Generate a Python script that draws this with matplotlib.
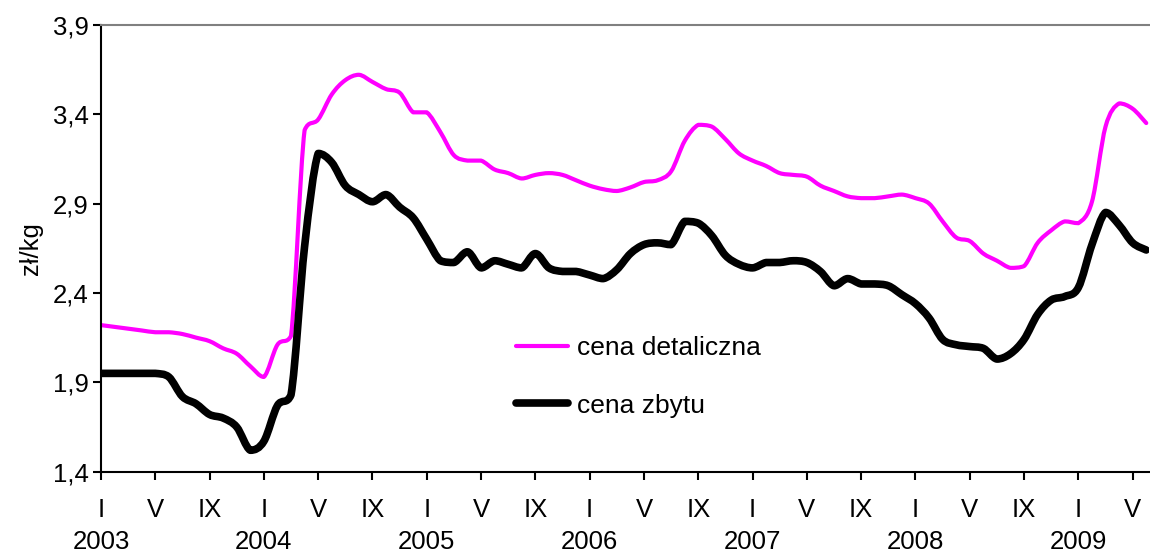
import numpy as np
import matplotlib.pyplot as plt
from matplotlib.path import Path
from matplotlib.patches import PathPatch
from matplotlib.lines import Line2D

plt.rcParams['font.family'] = ['Liberation Sans', 'DejaVu Sans']

# monthly prices, I 2003 .. VI 2009
detal = [2.22, 2.21, 2.20, 2.19, 2.18, 2.18, 2.17, 2.15, 2.13, 2.09, 2.06, 1.99,
         1.93, 2.11, 2.16, 3.31, 3.37, 3.51, 3.59, 3.62, 3.58, 3.54, 3.52, 3.41,
         3.41, 3.30, 3.17, 3.14, 3.14, 3.09, 3.07, 3.04, 3.06, 3.07, 3.06, 3.03,
         3.00, 2.98, 2.97, 2.99, 3.02, 3.03, 3.08, 3.25, 3.34, 3.33, 3.26, 3.18,
         3.14, 3.11, 3.07, 3.06, 3.05, 3.00, 2.97, 2.94, 2.93, 2.93, 2.94, 2.95,
         2.93, 2.90, 2.80, 2.71, 2.69, 2.62, 2.58, 2.54, 2.55, 2.68, 2.75, 2.80,
         2.79, 2.91, 3.33, 3.46, 3.43, 3.35]
zbyt = [1.95, 1.95, 1.95, 1.95, 1.95, 1.93, 1.82, 1.78, 1.72, 1.70, 1.65, 1.52,
        1.57, 1.77, 1.83, 2.66, 3.18, 3.13, 3.00, 2.95, 2.91, 2.95, 2.88, 2.82,
        2.70, 2.58, 2.57, 2.63, 2.54, 2.58, 2.56, 2.54, 2.62, 2.54, 2.52, 2.52,
        2.50, 2.48, 2.53, 2.62, 2.67, 2.68, 2.67, 2.80, 2.79, 2.72, 2.61, 2.56,
        2.54, 2.57, 2.57, 2.58, 2.57, 2.52, 2.44, 2.48, 2.45, 2.45, 2.44, 2.39,
        2.34, 2.26, 2.14, 2.11, 2.10, 2.09, 2.03, 2.06, 2.14, 2.28, 2.36, 2.38,
        2.43, 2.67, 2.85, 2.78, 2.68, 2.64]

months = ['I', 'V', 'IX']
years = ['2003', '2004', '2005', '2006', '2007', '2008', '2009']


# smoothed line like in a spreadsheet chart (bezier through the data points),
# control points kept between the segment ends so it doesn't overshoot
def smoothPath(x, y):
    pts = np.column_stack([x, y]).astype(float)
    n = len(pts)
    verts = [pts[0]]
    codes = [Path.MOVETO]
    for i in range(n - 1):
        p0 = pts[max(i - 1, 0)]
        p1 = pts[i]
        p2 = pts[i + 1]
        p3 = pts[min(i + 2, n - 1)]
        c1 = p1 + (p2 - p0) / 6
        c2 = p2 - (p3 - p1) / 6
        lo, hi = min(p1[1], p2[1]), max(p1[1], p2[1])
        c1[1] = np.clip(c1[1], lo, hi)
        c2[1] = np.clip(c2[1], lo, hi)
        verts += [c1, c2, p2]
        codes += [Path.CURVE4] * 3
    return Path(verts, codes)


x = np.arange(len(detal))

fig = plt.figure(figsize=(11.5, 5.53), dpi=100)
ax = fig.add_axes([0.0878, 0.147, 0.9113, 0.8083])

ax.add_patch(PathPatch(smoothPath(x, detal), fill=False, edgecolor='#ff00ff',
                       lw=3, joinstyle='round', capstyle='round'))
ax.add_patch(PathPatch(smoothPath(x, zbyt), fill=False, edgecolor='black',
                       lw=5.5, joinstyle='round', capstyle='round'))

ax.set_xlim(0, 77.2)
ax.set_ylim(1.4, 3.9)

yt = np.arange(1.4, 3.91, 0.5)
ax.set_yticks(yt)
ax.set_yticklabels([('%.1f' % v).replace('.', ',') for v in yt], fontsize=18.5)

xt = np.arange(0, 77, 4)
labs = []
for i, t in enumerate(xt):
    m = months[i % 3]
    if i % 3 == 0:
        labs.append(m + '\n' + years[i // 3])
    else:
        labs.append(m + '\n')
ax.set_xticks(xt)
ax.set_xticklabels(labs, fontsize=18.5, linespacing=1.42)

ax.tick_params(axis='both', direction='out', length=6, width=1.5, colors='black')
ax.tick_params(axis='x', pad=13)
ax.tick_params(axis='y', pad=3)

ax.spines['right'].set_visible(False)
ax.spines['top'].set_color('#808080')
ax.spines['top'].set_linewidth(1.5)
ax.spines['left'].set_linewidth(1.5)
ax.spines['bottom'].set_linewidth(1.5)

ax.set_ylabel('zł/kg', fontsize=18.5, labelpad=7)

handles = [Line2D([], [], color='#ff00ff', lw=3, solid_capstyle='round'),
           Line2D([], [], color='black', lw=5.5, solid_capstyle='round')]
ax.legend(handles, ['cena detaliczna', 'cena zbytu'], loc='center left',
          bbox_to_anchor=(0.3963, 0.2125), frameon=False, fontsize=19,
          handlelength=1.95, handletextpad=0.35, labelspacing=1.28,
          borderpad=0, borderaxespad=0)

fig.savefig('out.png', dpi=100)
